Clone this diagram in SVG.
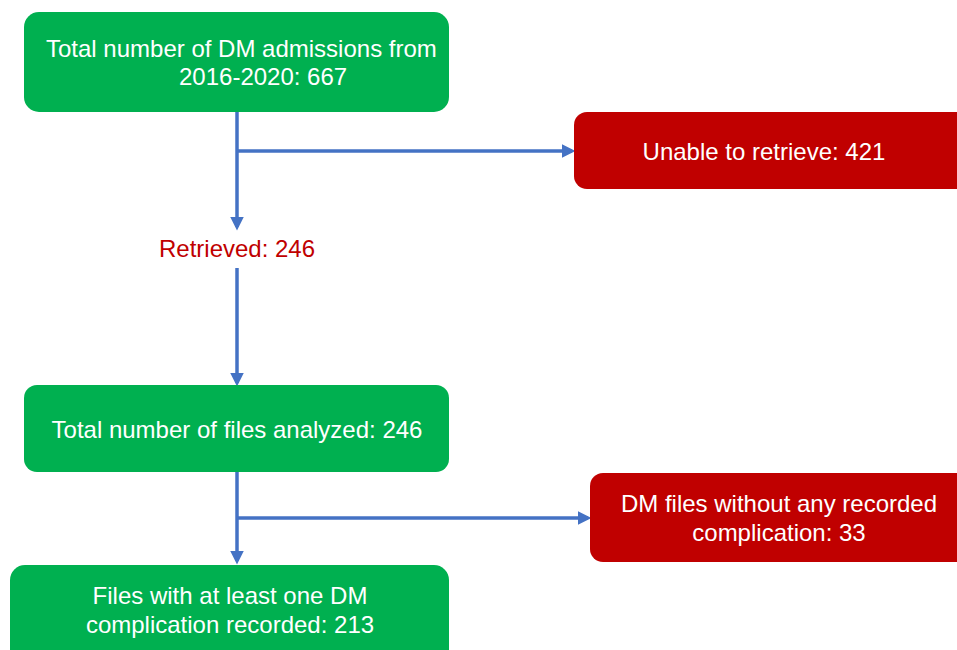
<svg xmlns="http://www.w3.org/2000/svg" width="957" height="650" viewBox="0 0 957 650">
<defs>
<style>
.g{fill:#00B050}
.r{fill:#C00000}
.t{font-family:"Liberation Sans",Arial,sans-serif;font-size:24px;fill:#fff}
.c{stroke:#4472C4;stroke-width:3.5;fill:none}
</style>
<marker id="a" markerWidth="4" markerHeight="4" refX="3" refY="2" orient="auto" markerUnits="strokeWidth">
<path d="M0,0 L4,2 L0,4 Z" fill="#4472C4"/>
</marker>
</defs>
<g id="connectors">
<path class="c" d="M237,112 V227" marker-end="url(#a)"/>
<path class="c" d="M237,151 H572" marker-end="url(#a)"/>
<path class="c" d="M237,268 V383" marker-end="url(#a)"/>
<path class="c" d="M237,472 V561" marker-end="url(#a)"/>
<path class="c" d="M237,518 H588" marker-end="url(#a)"/>
</g>
<g id="n1">
<rect class="g" x="24" y="12" width="425" height="100" rx="15"/>
<text class="t" x="46" y="57">Total number of DM admissions from</text>
<text class="t" x="179" y="85">2016-2020: 667</text>
</g>
<g id="n2">
<rect class="r" x="574" y="112" width="400" height="77" rx="13"/>
<text class="t" x="764" y="160" text-anchor="middle">Unable to retrieve: 421</text>
</g>
<g id="lbl">
<text x="237" y="257" text-anchor="middle" style="font-family:'Liberation Sans',Arial,sans-serif;font-size:24px;fill:#C00000">Retrieved: 246</text>
</g>
<g id="n3">
<rect class="g" x="24" y="385" width="425" height="87" rx="13"/>
<text class="t" x="237" y="438" text-anchor="middle">Total number of files analyzed: 246</text>
</g>
<g id="n4">
<rect class="r" x="590" y="473" width="400" height="89" rx="13"/>
<text class="t" x="779" y="512" text-anchor="middle">DM files without any recorded</text>
<text class="t" x="779" y="541" text-anchor="middle">complication: 33</text>
</g>
<g id="n5">
<rect class="g" x="10" y="565" width="439" height="100" rx="15"/>
<text class="t" x="230" y="604" text-anchor="middle">Files with at least one DM</text>
<text class="t" x="230" y="633" text-anchor="middle">complication recorded: 213</text>
</g>
</svg>
